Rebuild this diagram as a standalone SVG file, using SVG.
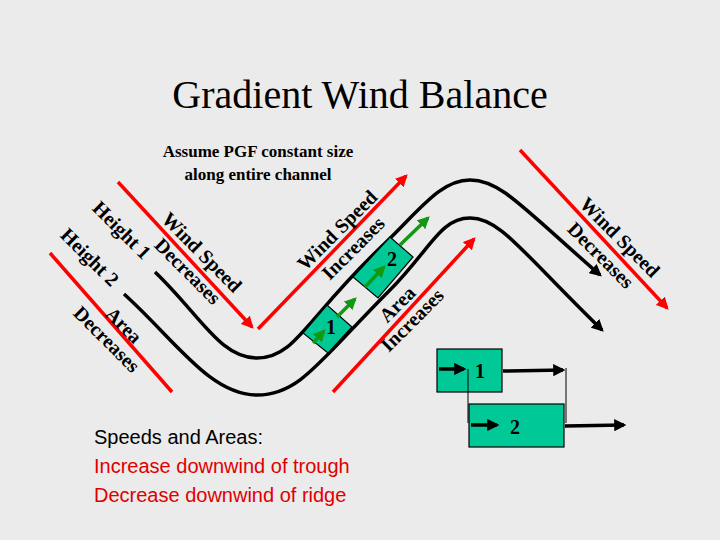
<svg xmlns="http://www.w3.org/2000/svg" width="720" height="540" viewBox="0 0 720 540">
<style>
.lbl{font-family:"Liberation Serif",serif;font-weight:bold;font-size:20px;fill:#000;text-anchor:middle;dominant-baseline:central}
.red{stroke:#f00;stroke-width:3.5;fill:none}
.blk{stroke:#000;stroke-width:3.5;fill:none}
.grn{stroke:#119911;stroke-width:3.5;fill:none}
.box{fill:#00c896;stroke:#000;stroke-width:1.2}
</style>
<defs>
<marker id="ar" viewBox="0 0 10 10" refX="8" refY="5" markerWidth="3.5" markerHeight="3.5" orient="auto"><path d="M0,0L10,5L0,10z" fill="#f00"/></marker>
<marker id="ab" viewBox="0 0 10 10" refX="8" refY="5" markerWidth="3.5" markerHeight="3.5" orient="auto"><path d="M0,0L10,5L0,10z" fill="#000"/></marker>
<marker id="ag" viewBox="0 0 10 10" refX="8" refY="5" markerWidth="3.5" markerHeight="3.5" orient="auto"><path d="M0,0L10,5L0,10z" fill="#119911"/></marker>
</defs>
<rect width="720" height="540" fill="#ebebeb"/>
<text x="360" y="108" font-family="Liberation Serif,serif" font-size="40" text-anchor="middle">Gradient Wind Balance</text>
<text x="258" y="157" font-family="Liberation Serif,serif" font-weight="bold" font-size="17" text-anchor="middle">Assume PGF constant size</text>
<text x="258" y="180" font-family="Liberation Serif,serif" font-weight="bold" font-size="17" text-anchor="middle">along entire channel</text>
<g id="connectors">
<path class="blk" d="M155,272 C200,315 220,358 257,358 C295,358 305,320 380,248 C420,210 440,180 470,180 C500,180 520,205 600,275" marker-end="url(#ab)"/>
<path class="blk" d="M124,294 C175,340 210,395 257,395 C300,395 320,360 390,290 C430,250 440,218 470,218 C500,218 520,250 602,330" marker-end="url(#ab)"/>
<line class="red" x1="118" y1="182" x2="252" y2="327" marker-end="url(#ar)"/>
<line class="red" x1="258" y1="329" x2="406" y2="176" marker-end="url(#ar)"/>
<line class="red" x1="50" y1="253" x2="172" y2="392"/>
<line class="red" x1="333" y1="392" x2="474" y2="239" marker-end="url(#ar)"/>
<line class="red" x1="520" y1="150" x2="667" y2="308" marker-end="url(#ar)"/>
</g>
<g id="box1">
<polygon class="box" points="303,333 327,305 352,327 328,353"/>
<line class="grn" x1="313" y1="343" x2="324" y2="331" marker-end="url(#ag)"/>
<line class="grn" x1="337" y1="317" x2="355" y2="299" marker-end="url(#ag)"/>
<text x="331" y="327" class="lbl">1</text>
</g>
<g id="box2">
<polygon class="box" points="353,277 390,237 413,257 378,298"/>
<line class="grn" x1="365" y1="287" x2="384" y2="267" marker-end="url(#ag)"/>
<line class="grn" x1="400" y1="245" x2="428" y2="218" marker-end="url(#ag)"/>
<text x="392" y="259" class="lbl">2</text>
</g>
<g id="labels">
<text class="lbl" transform="translate(122,230) rotate(45)">Height 1</text>
<text class="lbl" transform="translate(90,257) rotate(45)">Height 2</text>
<text class="lbl" transform="translate(202,252) rotate(45)">Wind Speed</text>
<text class="lbl" transform="translate(188,271) rotate(45)">Decreases</text>
<text class="lbl" transform="translate(124,325) rotate(45)">Area</text>
<text class="lbl" transform="translate(107,339) rotate(45)">Decreases</text>
<text class="lbl" transform="translate(337,230) rotate(-45)">Wind Speed</text>
<text class="lbl" transform="translate(353,248) rotate(-45)">Increases</text>
<text class="lbl" transform="translate(397,304) rotate(-45)">Area</text>
<text class="lbl" transform="translate(412,320) rotate(-45)">Increases</text>
<text class="lbl" transform="translate(620,237) rotate(45)">Wind Speed</text>
<text class="lbl" transform="translate(601,255) rotate(45)">Decreases</text>
</g>
<g id="row1">
<rect class="box" x="437" y="349" width="65" height="43"/>
<line class="blk" x1="439" y1="369" x2="464" y2="369" marker-end="url(#ab)"/>
<text x="480" y="371" class="lbl">1</text>
<line class="blk" x1="503" y1="371" x2="563" y2="370" marker-end="url(#ab)"/>
</g>
<g id="row2">
<rect class="box" x="469" y="404" width="95" height="43"/>
<line class="blk" x1="471" y1="425" x2="497" y2="425" marker-end="url(#ab)"/>
<text x="515" y="427" class="lbl">2</text>
<line class="blk" x1="565" y1="426" x2="624" y2="425" marker-end="url(#ab)"/>
</g>
<line x1="468" y1="369" x2="468" y2="423" stroke="#000" stroke-width="1"/>
<line x1="566" y1="368" x2="566" y2="423" stroke="#000" stroke-width="1"/>
<g font-family="Liberation Sans,sans-serif" font-size="20">
<text x="94" y="444" fill="#000">Speeds and Areas:</text>
<text x="94" y="473" fill="#e00000">Increase downwind of trough</text>
<text x="94" y="502" fill="#e00000">Decrease downwind of ridge</text>
</g>
</svg>
